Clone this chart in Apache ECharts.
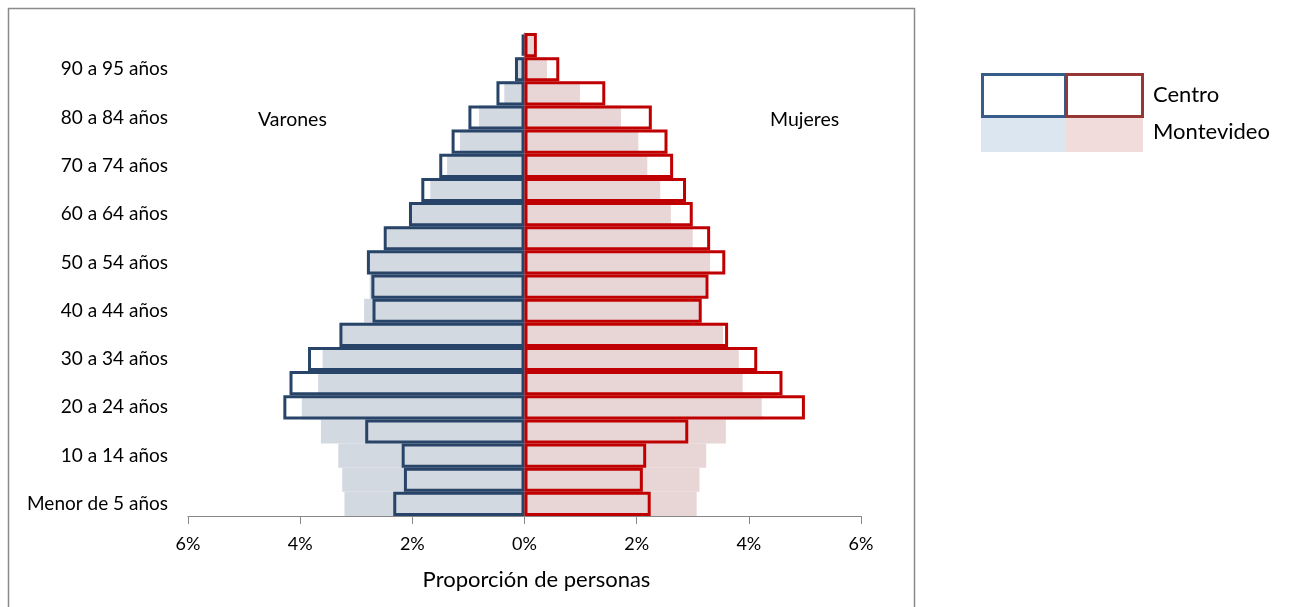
<!DOCTYPE html>
<html>
<head>
<meta charset="utf-8">
<script src="https://cdn.jsdelivr.net/npm/echarts@6/dist/echarts.min.js"></script>
<style>
html,body{margin:0;padding:0;background:#fff;}
#chart{width:1290px;height:607px;}
</style>
</head>
<body>
<div id="chart"></div>
<script>
const categories = ["Menor de 5 años","5 a 9 años","10 a 14 años","15 a 19 años","20 a 24 años","25 a 29 años","30 a 34 años","35 a 39 años","40 a 44 años","45 a 49 años","50 a 54 años","55 a 59 años","60 a 64 años","65 a 69 años","70 a 74 años","75 a 79 años","80 a 84 años","85 a 89 años","90 a 95 años","95 años y más"];
const centroVarones = [2.34,2.15,2.19,2.84,4.30,4.19,3.86,3.30,2.71,2.73,2.81,2.51,2.06,1.84,1.52,1.30,1.00,0.50,0.17,0.05];
const centroMujeres = [2.25,2.11,2.17,2.92,5.00,4.60,4.15,3.63,3.16,3.28,3.58,3.31,3.00,2.88,2.65,2.55,2.27,1.44,0.62,0.22];
const mvdVarones = [3.21,3.25,3.32,3.63,3.97,3.68,3.60,3.28,2.86,2.76,2.78,2.45,2.02,1.68,1.38,1.15,0.81,0.36,0.12,0.03];
const mvdMujeres = [3.07,3.12,3.24,3.59,4.23,3.89,3.82,3.54,3.13,3.22,3.31,3.00,2.61,2.42,2.19,2.03,1.72,0.99,0.40,0.16];
const xTicks = [-6,-4,-2,0,2,4,6];

const FONT = 'Lato';
const neg = a => a.map(v => -v);

const chart = echarts.init(document.getElementById('chart'), null, {renderer:'canvas'});
chart.setOption({
  animation:false,
  textStyle:{fontFamily:FONT},
  grid:{left:188,right:429,top:33,bottom:91,containLabel:false},
  xAxis:{
    type:'value',min:xTicks[0],max:xTicks[xTicks.length-1],interval:2,
    axisLine:{show:true,lineStyle:{color:'#888',width:1}},
    axisTick:{show:true,length:8,lineStyle:{color:'#888'}},
    splitLine:{show:false},
    axisLabel:{formatter:v=>Math.abs(v)+'%',color:'#000',fontSize:18,fontFamily:FONT,margin:19},
    name:'Proporción de personas',nameLocation:'middle',nameGap:53,
    nameTextStyle:{color:'#000',fontSize:22,fontFamily:FONT,padding:[0,0,0,24]}
  },
  yAxis:[{
    type:'category',data:categories,
    axisLine:{show:false,onZero:false},
    axisTick:{show:false},
    axisLabel:{interval:1,color:'#000',fontSize:19,fontFamily:FONT,margin:20}
  },{
    type:'category',data:categories,
    axisLine:{show:true,onZero:true,lineStyle:{color:'#888'}},
    axisTick:{show:true,interval:0,length:5,lineStyle:{color:'#888'}},
    axisLabel:{show:false}
  }],
  series:[
    {name:'Montevideo Varones',type:'bar',data:neg(mvdVarones),barGap:'-100%',barCategoryGap:0,
      itemStyle:{color:'#D3D9E1'},z:1},
    {name:'Montevideo Mujeres',type:'bar',data:mvdMujeres,barGap:'-100%',barCategoryGap:0,
      itemStyle:{color:'#E8D6D6'},z:1},
    {name:'Centro Varones',type:'bar',data:neg(centroVarones),barGap:'-100%',barCategoryGap:0,
      itemStyle:{color:'rgba(0,0,0,0)',borderColor:'#284468',borderWidth:3},z:3},
    {name:'Centro Mujeres',type:'bar',data:centroMujeres,barGap:'-100%',barCategoryGap:0,
      itemStyle:{color:'rgba(0,0,0,0)',borderColor:'#C00000',borderWidth:3},z:4}
  ],
  graphic:[
    {type:'rect',shape:{x:8.5,y:8.5,width:906,height:620},style:{fill:'none',stroke:'#8a8a8a',lineWidth:1.5},z:-10,silent:true},
    {type:'text',left:258,top:110,style:{text:'Varones',fontSize:19.5,fontFamily:FONT,fill:'#000'}},
    {type:'text',left:770,top:110,style:{text:'Mujeres',fontSize:19.5,fontFamily:FONT,fill:'#000'}},
    {type:'rect',shape:{x:982.5,y:74.5,width:83,height:42},style:{fill:'#fff',stroke:'#385D8A',lineWidth:3}},
    {type:'rect',shape:{x:1066.5,y:74.5,width:76,height:42},style:{fill:'#fff',stroke:'#953735',lineWidth:3}},
    {type:'rect',shape:{x:981,y:118,width:85,height:34},style:{fill:'#DCE6F1'}},
    {type:'rect',shape:{x:1066,y:118,width:77,height:34},style:{fill:'#F2DCDB'}},
    {type:'text',left:1153,top:84,style:{text:'Centro',fontSize:22,fontFamily:FONT,fill:'#000'}},
    {type:'text',left:1153,top:121,style:{text:'Montevideo',fontSize:22,fontFamily:FONT,fill:'#000'}}
  ]
});
</script>
</body>
</html>
